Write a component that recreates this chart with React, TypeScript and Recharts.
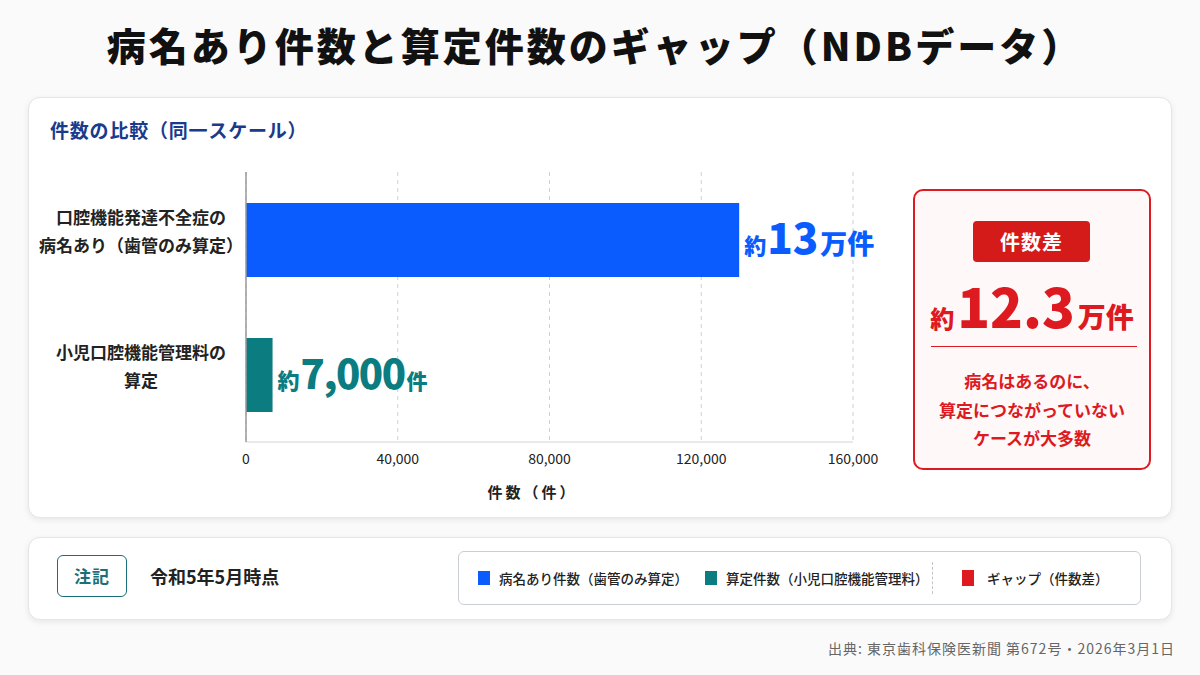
import React from 'react';
import { BarChart, Bar, XAxis, YAxis, CartesianGrid, Cell, LabelList } from 'recharts';

// Categories (two-line labels) and their counts
const categoryLines: string[][] = [
  ['口腔機能発達不全症の', '病名あり（歯管のみ算定）'],
  ['小児口腔機能管理料の', '算定'],
];
const categoryKeys = ['diagnosis', 'billed'];
const counts = [130000, 7000];
const barColors = ['#0a5cff', '#0b7c80'];
const gapColor = '#dc1a1f';

// X axis
const xTicks = [0, 40000, 80000, 120000, 160000];
const xDomain = [0, 160000];

// Legend entries
const legendItems = [
  { label: '病名あり件数（歯管のみ算定）', color: barColors[0] },
  { label: '算定件数（小児口腔機能管理料）', color: barColors[1] },
];
const gapLegendLabel = 'ギャップ（件数差）';

const data = categoryKeys.map((k, i) => ({ key: k, lines: categoryLines[i], value: counts[i] }));

const FONT = "'Noto Sans CJK JP', 'Noto Sans', sans-serif";

// Split a count into its number part and unit (万 for tens of thousands)
const splitCount = (v: number) => {
  if (v >= 10000) return { num: String(Math.round((v / 10000) * 10) / 10), unit: '万件' };
  return { num: v.toLocaleString('en-US'), unit: '件' };
};

const gap = counts[0] - counts[1];
const gapText = (gap / 10000).toFixed(1);

const CategoryTick = (props: any) => {
  const { y, payload } = props;
  const entry = data.find((d) => d.key === payload.value);
  const lines = entry ? entry.lines : [];
  return (
    <g>
      {lines.map((ln, i) => (
        <text
          key={i}
          x={141}
          y={y - 23 + i * 28}
          textAnchor="middle"
          dominantBaseline="central"
          fontSize={17}
          fontWeight={700}
          fill="#222"
          fontFamily={FONT}
        >
          {ln}
        </text>
      ))}
    </g>
  );
};

const ValueLabel = (props: any) => {
  const { x, y, width, height, value, index } = props;
  const idx = typeof index === 'number' ? index : counts.indexOf(Number(value));
  const color = barColors[idx] ?? '#222';
  const { num, unit } = splitCount(Number(value));
  const big = unit === '万件';
  return (
    <text
      x={Number(x) + Number(width) + 5}
      y={Number(y) + Number(height) / 2 + 14}
      fill={color}
      fontWeight={800}
      fontFamily={FONT}
    >
      <tspan fontSize={22}>約</tspan>
      <tspan fontSize={big ? 42 : 40} dx={1} letterSpacing={big ? 0 : -1.5}>{num}</tspan>
      <tspan fontSize={big ? 27 : 21} dx={2}>{unit}</tspan>
    </text>
  );
};

const AxisTitle = (props: any) => {
  const vb = props.viewBox || { x: 246, y: 442, width: 607, height: 60 };
  return (
    <text
      x={vb.x + vb.width / 2 - 17}
      y={vb.y + 49}
      textAnchor="middle"
      dominantBaseline="central"
      fontSize={15}
      fontWeight={700}
      fill="#222"
      fontFamily={FONT}
      letterSpacing={3}
    >
      件数（件）
    </text>
  );
};

const card: React.CSSProperties = {
  position: 'absolute',
  background: '#fff',
  border: '1px solid #e4e6ea',
  borderRadius: 12,
  boxShadow: '0 2px 6px rgba(0,0,0,0.08)',
  boxSizing: 'border-box',
};

export default function App() {
  return (
    <div
      style={{
        position: 'absolute',
        left: 0,
        top: 0,
        width: 1200,
        height: 675,
        background: '#fafafa',
        fontFamily: FONT,
        overflow: 'hidden',
      }}
    >
      {/* Title */}
      <div
        style={{
          position: 'absolute',
          left: 10,
          width: 1170,
          top: 19,
          textAlign: 'center',
          fontSize: 39,
          fontWeight: 900,
          color: '#111',
          lineHeight: '50px',
          letterSpacing: 3,
          whiteSpace: 'nowrap',
        }}
      >
        病名あり件数と算定件数のギャップ（NDBデータ）
      </div>

      {/* Main card */}
      <div style={{ ...card, left: 28, top: 97, width: 1144, height: 421 }} />
      <div
        style={{
          position: 'absolute',
          left: 50,
          top: 117,
          fontSize: 19,
          fontWeight: 700,
          color: '#1a3a8c',
          lineHeight: '26px',
          letterSpacing: 0.8,
        }}
      >
        件数の比較（同一スケール）
      </div>

      <div style={{ position: 'absolute', left: 0, top: 160 }}>
        <BarChart
          width={900}
          height={342}
          data={data}
          layout="vertical"
          margin={{ top: 12, right: 47, bottom: 0, left: 0 }}
        >
          <CartesianGrid horizontal={false} stroke="#cfcfcf" strokeDasharray="4 4" />
          <XAxis
            type="number"
            domain={xDomain}
            ticks={xTicks}
            height={60}
            tickLine={false}
            tickMargin={6}
            axisLine={{ stroke: '#d4d4d4' }}
            tick={{ fontSize: 14, fill: '#222', fontFamily: FONT }}
            tickFormatter={(v: number) => v.toLocaleString('en-US')}
            label={{ content: AxisTitle }}
          />
          <YAxis
            type="category"
            dataKey="key"
            width={246}
            tickLine={false}
            axisLine={{ stroke: '#9a9a9a', strokeWidth: 1.5 }}
            tick={<CategoryTick />}
          />
          <Bar dataKey="value" barSize={74} isAnimationActive={false}>
            {data.map((d, i) => (
              <Cell key={d.key} fill={barColors[i]} />
            ))}
            <LabelList dataKey="value" content={<ValueLabel />} />
          </Bar>
        </BarChart>
      </div>

      {/* Gap callout */}
      <div
        style={{
          position: 'absolute',
          left: 913,
          top: 189,
          width: 238,
          height: 281,
          border: `2px solid ${gapColor}`,
          borderRadius: 10,
          background: '#fff8f8',
          boxSizing: 'border-box',
        }}
      >
        <div
          style={{
            position: 'absolute',
            left: 58,
            top: 30,
            width: 117,
            height: 41,
            background: '#d51a1a',
            borderRadius: 4,
            color: '#fff',
            fontSize: 20,
            fontWeight: 700,
            textAlign: 'center',
            lineHeight: '41px',
            letterSpacing: 1,
          }}
        >
          件数差
        </div>
        <div
          style={{
            position: 'absolute',
            left: 0,
            width: 234,
            top: 84,
            textAlign: 'center',
            color: gapColor,
            fontWeight: 900,
            whiteSpace: 'nowrap',
            lineHeight: '60px',
          }}
        >
          <span style={{ fontSize: 24 }}>約</span>
          <span style={{ fontSize: 54, margin: '0 3px' }}>{gapText}</span>
          <span style={{ fontSize: 28 }}>万件</span>
        </div>
        <div
          style={{
            position: 'absolute',
            left: 16,
            width: 206,
            top: 155,
            height: 0,
            borderTop: `1.5px solid ${gapColor}`,
          }}
        />
        <div
          style={{
            position: 'absolute',
            left: 0,
            width: 234,
            top: 176,
            textAlign: 'center',
            color: gapColor,
            fontSize: 17,
            fontWeight: 700,
            lineHeight: '28.5px',
          }}
        >
          病名はあるのに、
          <br />
          算定につながっていない
          <br />
          ケースが大多数
        </div>
      </div>

      {/* Notes card */}
      <div style={{ ...card, left: 28, top: 537, width: 1144, height: 83 }} />
      <div
        style={{
          position: 'absolute',
          left: 57,
          top: 555,
          width: 70,
          height: 42,
          border: '1.5px solid #1a6f78',
          borderRadius: 6,
          boxSizing: 'border-box',
          color: '#1a6f78',
          fontSize: 17,
          fontWeight: 700,
          textAlign: 'center',
          lineHeight: '39px',
          letterSpacing: 1,
        }}
      >
        注記
      </div>
      <div
        style={{
          position: 'absolute',
          left: 150,
          top: 563,
          fontSize: 18,
          fontWeight: 700,
          color: '#222',
          lineHeight: '26px',
        }}
      >
        令和5年5月時点
      </div>

      {/* Legend */}
      <div
        style={{
          position: 'absolute',
          left: 458,
          top: 551,
          width: 683,
          height: 54,
          border: '1px solid #c9cdd4',
          borderRadius: 6,
          boxSizing: 'border-box',
          background: '#fff',
        }}
      >
        {legendItems.map((it, i) => (
          <div
            key={it.label}
            style={{
              position: 'absolute',
              left: i === 0 ? 19 : 246,
              top: 0,
              height: 52,
              display: 'flex',
              alignItems: 'center',
              fontSize: 13.5,
              color: '#222',
              fontWeight: 500,
              whiteSpace: 'nowrap',
            }}
          >
            <span style={{ width: 12, height: 14, background: it.color, marginRight: 9, display: 'inline-block' }} />
            {it.label}
          </div>
        ))}
        <div
          style={{
            position: 'absolute',
            left: 473,
            top: 10,
            height: 32,
            borderLeft: '1px dashed #c4c4c4',
          }}
        />
        <div
          style={{
            position: 'absolute',
            left: 503,
            top: 0,
            height: 52,
            display: 'flex',
            alignItems: 'center',
            fontSize: 13.5,
            color: '#222',
            fontWeight: 500,
            whiteSpace: 'nowrap',
          }}
        >
          <span style={{ width: 12, height: 16, background: gapColor, marginRight: 13, display: 'inline-block' }} />
          {gapLegendLabel}
        </div>
      </div>

      {/* Source */}
      <div
        style={{
          position: 'absolute',
          right: 25,
          top: 637,
          fontSize: 14,
          color: '#666',
          lineHeight: '22px',
          whiteSpace: 'nowrap',
          letterSpacing: 1,
        }}
      >
        出典: 東京歯科保険医新聞 第672号・2026年3月1日
      </div>
    </div>
  );
}
